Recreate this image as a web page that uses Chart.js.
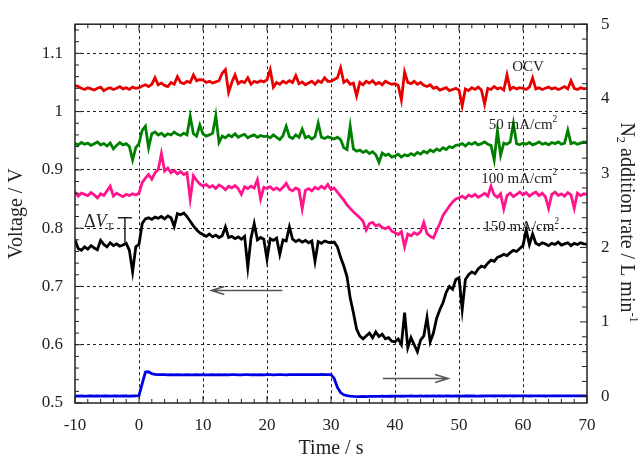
<!DOCTYPE html>
<html>
<head>
<meta charset="utf-8">
<script src="https://cdn.jsdelivr.net/npm/chart.js@4.4.1/dist/chart.umd.min.js"></script>
<style>
  html, body { margin: 0; padding: 0; background: #fff; }
  canvas { display: block; }
</style>
</head>
<body>
<canvas id="voltageChart" width="643" height="462"></canvas>
<script>
// Tiempo (s), cada 0.5 s
const times = [
  -10, -9.5, -9, -8.5, -8, -7.5, -7, -6.5, -6, -5.5, -5, -4.5, -4, -3.5, -3, -2.5, -2, -1.5, -1, -0.5,
  0, 0.5, 1, 1.5, 2, 2.5, 3, 3.5, 4, 4.5, 5, 5.5, 6, 6.5, 7, 7.5, 8, 8.5, 9, 9.5,
  10, 10.5, 11, 11.5, 12, 12.5, 13, 13.5, 14, 14.5, 15, 15.5, 16, 16.5, 17, 17.5, 18, 18.5, 19, 19.5,
  20, 20.5, 21, 21.5, 22, 22.5, 23, 23.5, 24, 24.5, 25, 25.5, 26, 26.5, 27, 27.5, 28, 28.5, 29, 29.5,
  30, 30.5, 31, 31.5, 32, 32.5, 33, 33.5, 34, 34.5, 35, 35.5, 36, 36.5, 37, 37.5, 38, 38.5, 39, 39.5,
  40, 40.5, 41, 41.5, 42, 42.5, 43, 43.5, 44, 44.5, 45, 45.5, 46, 46.5, 47, 47.5, 48, 48.5, 49, 49.5,
  50, 50.5, 51, 51.5, 52, 52.5, 53, 53.5, 54, 54.5, 55, 55.5, 56, 56.5, 57, 57.5, 58, 58.5, 59, 59.5,
  60, 60.5, 61, 61.5, 62, 62.5, 63, 63.5, 64, 64.5, 65, 65.5, 66, 66.5, 67, 67.5, 68, 68.5, 69, 69.5,
  70
];

// Voltaje (V)
const ocv = [
  1.045, 1.043, 1.040, 1.038, 1.041, 1.039, 1.037, 1.040, 1.042, 1.036, 1.039, 1.041, 1.038, 1.040, 1.043, 1.039, 1.041, 1.038, 1.042, 1.040,
  1.041, 1.044, 1.046, 1.043, 1.047, 1.058, 1.046, 1.049, 1.045, 1.043, 1.050, 1.047, 1.060, 1.050, 1.048, 1.052, 1.050, 1.063, 1.053, 1.055,
  1.054, 1.050, 1.052, 1.049, 1.051, 1.053, 1.066, 1.072, 1.033, 1.050, 1.063, 1.048, 1.052, 1.050, 1.058, 1.047, 1.052, 1.050, 1.053, 1.051,
  1.055, 1.072, 1.042, 1.050, 1.047, 1.052, 1.049, 1.053, 1.050, 1.062, 1.048, 1.051, 1.046, 1.049, 1.052, 1.047, 1.053, 1.050, 1.058, 1.052,
  1.052, 1.055, 1.058, 1.075, 1.050, 1.054, 1.047, 1.049, 1.027, 1.050, 1.046, 1.052, 1.049, 1.053, 1.047, 1.050, 1.046, 1.052, 1.049, 1.047,
  1.048, 1.045, 1.020, 1.068, 1.050, 1.048, 1.052, 1.047, 1.050, 1.045, 1.043, 1.046, 1.040, 1.042, 1.037, 1.039, 1.041, 1.036, 1.038, 1.040,
  1.037, 1.010, 1.039, 1.036, 1.041, 1.038, 1.042, 1.037, 1.013, 1.040, 1.038, 1.043, 1.039, 1.041, 1.037, 1.063, 1.038, 1.042, 1.039, 1.041,
  1.040, 1.038, 1.042, 1.058, 1.039, 1.041, 1.038, 1.040, 1.042, 1.039, 1.041, 1.038, 1.040, 1.043, 1.039, 1.053, 1.040, 1.038, 1.041, 1.039,
  1.040
];
const cd50 = [
  0.945, 0.943, 0.947, 0.944, 0.946, 0.942, 0.945, 0.948, 0.943, 0.945, 0.941, 0.946, 0.936, 0.942, 0.947, 0.943, 0.945, 0.940, 0.917, 0.938,
  0.945, 0.968, 0.975, 0.938, 0.962, 0.965, 0.960, 0.963, 0.958, 0.962, 0.960, 0.965, 0.961, 0.959, 0.963, 0.960, 0.992, 0.962, 0.958, 0.977,
  0.962, 0.958, 0.960, 0.963, 0.993, 0.947, 0.958, 0.955, 0.960, 0.957, 0.962, 0.956, 0.959, 0.961, 0.955, 0.958, 0.960, 0.956, 0.959, 0.957,
  0.958, 0.955, 0.960, 0.956, 0.952, 0.959, 0.975, 0.957, 0.954, 0.960, 0.956, 0.970, 0.955, 0.958, 0.953, 0.957, 0.980, 0.956, 0.954, 0.957,
  0.955, 0.953, 0.956, 0.952, 0.938, 0.935, 0.975, 0.936, 0.932, 0.934, 0.930, 0.933, 0.928, 0.931, 0.926, 0.913, 0.929, 0.925, 0.927, 0.922,
  0.924, 0.927, 0.922, 0.926, 0.924, 0.928, 0.925, 0.930, 0.927, 0.932, 0.929, 0.934, 0.931, 0.936, 0.933, 0.938, 0.935, 0.940, 0.938, 0.942,
  0.943, 0.945, 0.941, 0.946, 0.944, 0.947, 0.943, 0.945, 0.948, 0.944, 0.942, 0.917, 0.967, 0.925, 0.946, 0.944, 0.948, 0.980, 0.945, 0.943,
  0.946, 0.944, 0.947, 0.943, 0.945, 0.948, 0.944, 0.946, 0.943, 0.947, 0.945, 0.948, 0.944, 0.946, 0.968, 0.945, 0.947, 0.944, 0.946, 0.948,
  0.947
];
const cd100 = [
  0.862, 0.855, 0.860, 0.858, 0.856, 0.861, 0.857, 0.852, 0.859, 0.856, 0.864, 0.872, 0.855, 0.860, 0.857, 0.854, 0.858, 0.856, 0.859, 0.857,
  0.860, 0.878, 0.886, 0.892, 0.884, 0.895, 0.900, 0.928, 0.898, 0.903, 0.895, 0.899, 0.893, 0.897, 0.892, 0.895, 0.850, 0.890, 0.882, 0.876,
  0.872, 0.875, 0.870, 0.873, 0.868, 0.874, 0.871, 0.866, 0.872, 0.869, 0.873, 0.868, 0.858, 0.871, 0.868, 0.872, 0.869, 0.883, 0.850, 0.870,
  0.868, 0.871, 0.866, 0.869, 0.865, 0.870, 0.877, 0.867, 0.864, 0.869, 0.866, 0.833, 0.865, 0.868, 0.864, 0.870, 0.867, 0.872, 0.868, 0.875,
  0.866, 0.869, 0.862, 0.855, 0.848, 0.840, 0.834, 0.828, 0.823, 0.818, 0.812, 0.797, 0.808, 0.810, 0.804, 0.806, 0.801, 0.799, 0.802, 0.795,
  0.792, 0.789, 0.794, 0.768, 0.790, 0.787, 0.792, 0.789, 0.794, 0.810, 0.791, 0.786, 0.783, 0.796, 0.808, 0.822, 0.830, 0.838, 0.845, 0.850,
  0.852, 0.855, 0.851, 0.857, 0.854, 0.858, 0.853, 0.856, 0.860, 0.855, 0.872, 0.857, 0.853, 0.859, 0.833, 0.856, 0.860, 0.854, 0.858, 0.862,
  0.857, 0.861, 0.855, 0.859, 0.862, 0.856, 0.860, 0.854, 0.834, 0.858, 0.862, 0.856, 0.859, 0.855, 0.861, 0.857, 0.834, 0.860, 0.856, 0.859,
  0.858
];
const cd150 = [
  0.780, 0.765, 0.762, 0.768, 0.764, 0.770, 0.766, 0.763, 0.779, 0.772, 0.768, 0.775, 0.770, 0.773, 0.769, 0.771, 0.774, 0.762, 0.725, 0.768,
  0.772, 0.808, 0.816, 0.818, 0.815, 0.819, 0.817, 0.820, 0.816, 0.821, 0.818, 0.803, 0.825, 0.823, 0.826, 0.820, 0.812, 0.804, 0.797, 0.792,
  0.789, 0.786, 0.790, 0.785, 0.788, 0.784, 0.787, 0.802, 0.784, 0.786, 0.782, 0.785, 0.781, 0.786, 0.733, 0.783, 0.808, 0.780, 0.784, 0.781,
  0.747, 0.782, 0.779, 0.783, 0.755, 0.780, 0.778, 0.802, 0.781, 0.777, 0.780, 0.776, 0.779, 0.775, 0.778, 0.743, 0.777, 0.774, 0.778, 0.776,
  0.775, 0.776, 0.768, 0.750, 0.735, 0.717, 0.680, 0.655, 0.627, 0.615, 0.610, 0.615, 0.620, 0.612, 0.622, 0.614, 0.618, 0.610, 0.612, 0.606,
  0.605, 0.610, 0.600, 0.655, 0.595, 0.612, 0.600, 0.588, 0.608, 0.615, 0.647, 0.605, 0.620, 0.645, 0.660, 0.672, 0.690, 0.700, 0.695, 0.712,
  0.715, 0.660, 0.712, 0.720, 0.725, 0.722, 0.730, 0.735, 0.733, 0.740, 0.745, 0.743, 0.750, 0.752, 0.755, 0.753, 0.758, 0.762, 0.760, 0.765,
  0.770, 0.797, 0.772, 0.790, 0.774, 0.771, 0.775, 0.773, 0.770, 0.774, 0.772, 0.776, 0.771, 0.773, 0.775, 0.770, 0.774, 0.772, 0.775, 0.773,
  0.772
];

// Caudal de N2 (L/min), eje derecho
const n2Rate = [
  0.004, 0.002, 0.005, 0.003, 0.004, 0.006, 0.003, 0.004, 0.002, 0.005, 0.004, 0.003, 0.005, 0.004, 0.002, 0.004, 0.005, 0.003, 0.004, 0.005,
  0.010, 0.170, 0.325, 0.330, 0.305, 0.296, 0.292, 0.290, 0.291, 0.289, 0.290, 0.288, 0.290, 0.287, 0.289, 0.290, 0.288, 0.289, 0.291, 0.289,
  0.290, 0.288, 0.289, 0.291, 0.289, 0.290, 0.288, 0.290, 0.289, 0.291, 0.290, 0.289, 0.288, 0.290, 0.291, 0.289, 0.290, 0.288, 0.290, 0.289,
  0.291, 0.290, 0.289, 0.290, 0.292, 0.290, 0.289, 0.291, 0.290, 0.292, 0.291, 0.290, 0.292, 0.291, 0.290, 0.292, 0.291, 0.293, 0.292, 0.291,
  0.292, 0.240, 0.120, 0.050, 0.020, 0.008, 0.002, -0.002, -0.004, -0.003, -0.002, -0.003, -0.001, -0.002, 0.000, -0.001, 0.001, 0.000, 0.002, 0.001,
  0.002, 0.003, 0.001, 0.003, 0.002, 0.004, 0.003, 0.002, 0.004, 0.003, 0.005, 0.003, 0.004, 0.002, 0.004, 0.003, 0.005, 0.004, 0.003, 0.005,
  0.004, 0.003, 0.005, 0.004, 0.006, 0.004, 0.003, 0.005, 0.004, 0.006, 0.005, 0.004, 0.006, 0.005, 0.004, 0.006, 0.005, 0.004, 0.006, 0.005,
  0.005, 0.006, 0.004, 0.005, 0.007, 0.005, 0.006, 0.004, 0.006, 0.005, 0.007, 0.006, 0.005, 0.007, 0.006, 0.005, 0.007, 0.006, 0.005, 0.006,
  0.006
];

const xTicks = [-10, 0, 10, 20, 30, 40, 50, 60, 70];
const serif = '"Liberation Serif", "Times New Roman", serif';
const textColor = '#222';

function toPoints(values) {
  return times.map((t, i) => ({ x: t, y: values[i] }));
}

// texto con sub/superíndices: [texto, 'n' | 'sub' | 'sup' | 'it']
function richWidth(ctx, parts, size) {
  let w = 0;
  parts.forEach(([txt, kind]) => {
    const s = (kind === 'sub' || kind === 'sup') ? size * 0.62 : size;
    ctx.font = (kind === 'it' ? 'italic ' : '') + s + 'px ' + serif;
    w += ctx.measureText(txt).width;
  });
  return w;
}

function drawRich(ctx, parts, x, y, size) {
  let cx = x - richWidth(ctx, parts, size) / 2;
  parts.forEach(([txt, kind]) => {
    let s = size, dy = 0;
    if (kind === 'sub') { s = size * 0.62; dy = size * 0.28; }
    if (kind === 'sup') { s = size * 0.62; dy = -size * 0.38; }
    ctx.font = (kind === 'it' ? 'italic ' : '') + s + 'px ' + serif;
    ctx.fillText(txt, cx, y + dy);
    cx += ctx.measureText(txt).width;
  });
}

function arrow(ctx, x1, x2, y) {
  const dir = Math.sign(x2 - x1);
  ctx.beginPath();
  ctx.moveTo(x1, y);
  ctx.lineTo(x2, y);
  ctx.moveTo(x2 - dir * 13, y - 4);
  ctx.lineTo(x2, y);
  ctx.lineTo(x2 - dir * 13, y + 4);
  ctx.stroke();
}

// Marco, marcas interiores y anotaciones
const framePlugin = {
  id: 'framePlugin',
  afterDraw(chart) {
    const { ctx, chartArea: a, scales: { x, y, y2 } } = chart;
    ctx.save();

    ctx.strokeStyle = '#222';
    ctx.lineWidth = 1;
    ctx.beginPath();
    for (let i = 0; i <= 40; i++) {
      const px = x.getPixelForValue(-10 + i * 2);
      const len = i % 5 === 0 ? 7 : 4;
      ctx.moveTo(px, a.bottom); ctx.lineTo(px, a.bottom - len);
      ctx.moveTo(px, a.top); ctx.lineTo(px, a.top + len);
    }
    for (let i = 0; i <= 32; i++) {
      const py = y.getPixelForValue(0.5 + i * 0.02);
      const len = i % 5 === 0 ? 7 : 4;
      ctx.moveTo(a.left, py); ctx.lineTo(a.left + len, py);
    }
    for (let i = 0; i <= 25; i++) {
      const py = y2.getPixelForValue(i * 0.2);
      const len = i % 5 === 0 ? 7 : 5;
      ctx.moveTo(a.right, py); ctx.lineTo(a.right - len, py);
    }
    ctx.stroke();

    ctx.lineWidth = 1.5;
    ctx.strokeRect(a.left, a.top, a.right - a.left, a.bottom - a.top);

    // flechas
    ctx.strokeStyle = '#555';
    ctx.lineWidth = 1.5;
    arrow(ctx, x.getPixelForValue(22.4), x.getPixelForValue(11.3), y.getPixelForValue(0.693));
    arrow(ctx, x.getPixelForValue(38.1), x.getPixelForValue(48.3), y.getPixelForValue(0.542));

    // marca de ΔV
    ctx.strokeStyle = '#222';
    ctx.lineWidth = 1.5;
    const bx = x.getPixelForValue(-2.2);
    const bTop = y.getPixelForValue(0.818);
    ctx.beginPath();
    ctx.moveTo(bx - 7, bTop); ctx.lineTo(bx + 7, bTop);
    ctx.moveTo(bx, bTop); ctx.lineTo(bx, y.getPixelForValue(0.775));
    ctx.stroke();

    // etiquetas
    ctx.fillStyle = textColor;
    ctx.textBaseline = 'middle';
    ctx.textAlign = 'left';
    drawRich(ctx, [['OCV', 'n']], x.getPixelForValue(60.8), y.getPixelForValue(1.077), 15);
    drawRich(ctx, [['50 mA/cm', 'n'], ['2', 'sup']], x.getPixelForValue(60), y.getPixelForValue(0.977), 15);
    drawRich(ctx, [['100 mA/cm', 'n'], ['2', 'sup']], x.getPixelForValue(59.4), y.getPixelForValue(0.885), 15);
    drawRich(ctx, [['150 mA/cm', 'n'], ['2', 'sup']], x.getPixelForValue(59.7), y.getPixelForValue(0.802), 15);
    drawRich(ctx, [['\u0394', 'n'], ['V', 'it'], ['T', 'sub']], x.getPixelForValue(-6.3), y.getPixelForValue(0.81), 18);

    // título del eje derecho (girado 90°)
    ctx.translate(626, (a.top + a.bottom) / 2 + 9);
    ctx.rotate(Math.PI / 2);
    drawRich(ctx, [['N', 'n'], ['2', 'sub'], [' addition rate / L min', 'n'], ['-1', 'sup']], 0, 0, 20);

    ctx.restore();
  }
};

const gridColor = (edges) => (c) => {
  const v = c.tick ? c.tick.value : null;
  return edges.some(e => Math.abs(v - e) < 1e-6) ? 'rgba(0,0,0,0)' : '#222';
};

const ctx = document.getElementById('voltageChart').getContext('2d');
const voltageChart = new Chart(ctx, {
  type: 'line',
  data: {
    datasets: [
      { label: 'OCV', data: toPoints(ocv), borderColor: 'rgb(232, 0, 0)', yAxisID: 'y' },
      { label: '50 mA/cm2', data: toPoints(cd50), borderColor: 'rgb(0, 128, 0)', yAxisID: 'y' },
      { label: '100 mA/cm2', data: toPoints(cd100), borderColor: 'rgb(255, 20, 140)', yAxisID: 'y' },
      { label: '150 mA/cm2', data: toPoints(cd150), borderColor: 'rgb(0, 0, 0)', yAxisID: 'y' },
      { label: 'N2', data: toPoints(n2Rate), borderColor: 'rgb(0, 0, 230)', yAxisID: 'y2' }
    ]
  },
  options: {
    responsive: false,
    animation: false,
    layout: { padding: { top: 13, left: 0, right: 0, bottom: 0 } },
    elements: {
      point: { radius: 0 },
      line: { tension: 0, borderWidth: 2.8, fill: false }
    },
    plugins: {
      legend: { display: false },
      tooltip: { enabled: false }
    },
    scales: {
      x: {
        type: 'linear',
        min: -10,
        max: 70,
        afterBuildTicks: (s) => { s.ticks = xTicks.map(v => ({ value: v })); },
        afterFit: (s) => { s.height = 59; },
        ticks: { font: { family: serif, size: 17 }, color: textColor, padding: 12, maxRotation: 0 },
        grid: { drawTicks: false, color: gridColor([-10, 70]), lineWidth: 1 },
        border: { display: false, dash: [3, 3] },
        title: { display: true, text: 'Time / s', font: { family: serif, size: 20 }, color: textColor, padding: { top: 0, bottom: 1 } }
      },
      y: {
        position: 'left',
        min: 0.5,
        max: 1.15,
        afterFit: (s) => { s.width = 75; },
        ticks: {
          stepSize: 0.1,
          includeBounds: false,
          font: { family: serif, size: 17 },
          color: textColor,
          padding: 12,
          callback: (v) => String(Math.round(v * 100) / 100)
        },
        grid: { drawTicks: false, color: gridColor([0.5]), lineWidth: 1 },
        border: { display: false, dash: [3, 3] },
        title: { display: true, text: 'Voltage / V', font: { family: serif, size: 20 }, color: textColor, padding: { top: 5, bottom: 0 } }
      },
      y2: {
        position: 'right',
        min: -0.09,
        max: 5,
        afterFit: (s) => { s.width = 56; },
        ticks: { stepSize: 1, includeBounds: false, font: { family: serif, size: 17 }, color: textColor, padding: 14 },
        grid: { display: false, drawTicks: false },
        border: { display: false }
      }
    }
  },
  plugins: [framePlugin]
});
</script>
</body>
</html>
